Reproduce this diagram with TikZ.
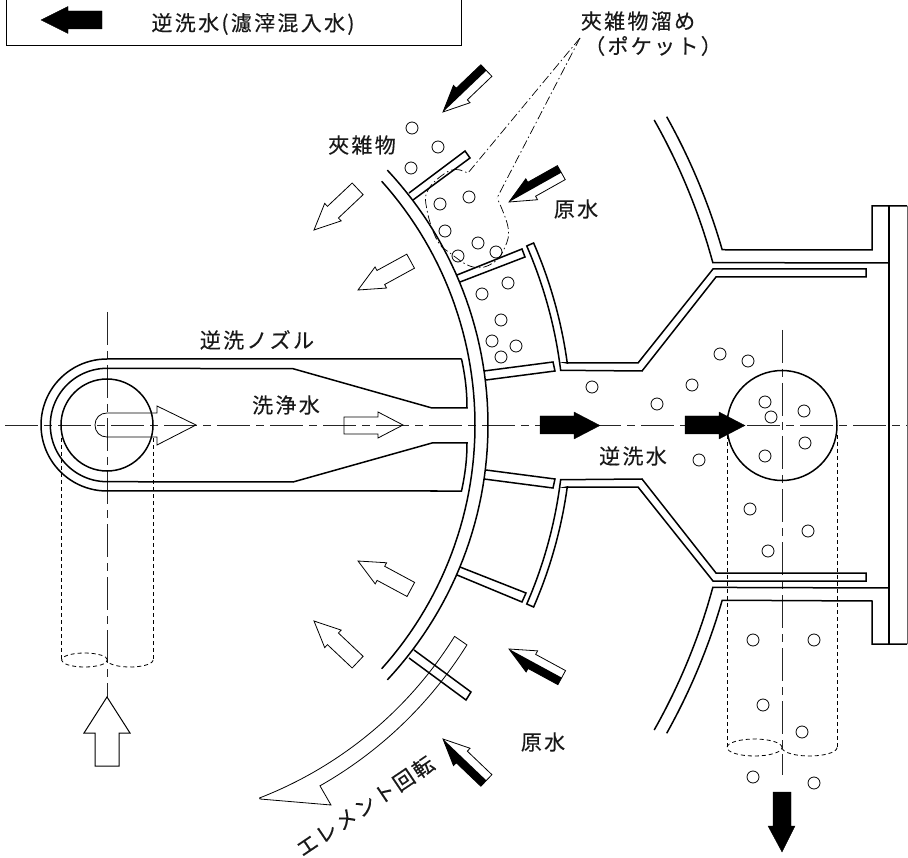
\documentclass[tikz,border=0pt]{standalone}
\usepackage{fontspec}
\setmainfont[LetterSpace=11,FakeBold=0.25]{Noto Sans CJK JP}
\usetikzlibrary{calc}
\tikzset{
  wall/.style={draw=black,line width=1.5pt,line join=miter},
  thinline/.style={draw=black,line width=0.8pt,line join=miter},
  centerl/.style={draw=black!85,line width=0.9pt,dash pattern=on 33pt off 6pt on 8pt off 6pt},
  hidden/.style={draw=black,line width=0.8pt,dash pattern=on 4pt off 3pt},
  leader/.style={draw=black,line width=0.7pt,dash pattern=on 9pt off 3pt on 1.5pt off 3pt},
  bead/.style={draw=black,line width=0.8pt},
  solidarrow/.style={fill=black,draw=black,line width=0.3pt},
  label/.style={font=\fontsize{21pt}{24pt}\selectfont,inner sep=0pt,text=black!90}
}
\newcommand\ArrowShape{(0,0) -- (26,-12) -- (26,-8) -- (60,-8) -- (60,8) -- (26,8) -- (26,12) -- cycle}
\newcommand\WhiteArrow[3]{\begin{scope}[shift={(#1,#2)},rotate=#3]
  \draw[thinline,fill=white] \ArrowShape;
\end{scope}}
% #4 = -1: black on the local upper side, 1: on the local lower side
\newcommand\HalfArrow[4]{\begin{scope}[shift={(#1,#2)},rotate=#3]
  \draw[thinline,fill=white] \ArrowShape;
  \fill[black] (0,0) -- (26,{#4*12}) -- (26,{#4*8}) -- (60,{#4*8}) -- (60,0) -- cycle;
\end{scope}}
\newcommand\Beads[1]{\foreach \px/\py in {#1}{\draw[bead] (\px,\py) circle (6pt);}}
\begin{document}
\begin{tikzpicture}[x=1pt,y=-1pt]
\useasboundingbox (0,0) rectangle (908,858);
\fill[white] (0,0) rectangle (908,858);

% legend
\draw[draw=black,line width=1pt] (6,-2) -- (6,46) -- (461,46) -- (461,-2);
\fill[solidarrow] (41,20) -- (68,6.5) -- (68,11) -- (102,11) -- (102,29) -- (68,29) -- (68,33.5) -- cycle;
\node[label] (legendtext) at (253,24) {逆洗水(濾滓混入水)};

% centre lines
\draw[centerl] (5,425) -- (907,425);
\draw[centerl] (107,312) -- (107,697);
\draw[centerl] (782,330) -- (782,775);

% filter wall double arc
\draw[wall] plot[domain=-41.9:41.9,samples=60] ({110+365*cos(\x)},{425+365*sin(\x)});
\draw[wall] plot[domain=-43.1:43.1,samples=60] ({115+373*cos(\x)},{425+373*sin(\x)});

% ribs
\draw[wall] (409,193) -- (465,151) -- (470,158) -- (413,200);
\draw[wall] (457,275) -- (522,249) -- (525,257) -- (460,282);
\draw[wall] (484,371) -- (553,362) -- (555,371) -- (486,380);
\draw[wall] (484,479) -- (553,488) -- (555,479) -- (486,470);
\draw[wall] (460,567) -- (526,593) -- (522,602) -- (457,575);
\draw[wall] (414,650) -- (471,692) -- (466,700) -- (409,658);

% inner housing, upper and lower
\draw[wall] plot[domain=-23.5:-7.0,samples=25] ({115+449*cos(\x)},{425+449*sin(\x)})
  -- (642,371) -- (716,277) -- (866,277) -- (866,269) -- (713,269) -- (638,363) -- (567,363)
  -- plot[domain=-7.8:-23.5,samples=25] ({115+456.5*cos(\x)},{425+456.5*sin(\x)}) -- cycle;
\draw[wall] plot[domain=23.5:7.0,samples=25] ({115+449*cos(\x)},{425+449*sin(\x)})
  -- (642,479) -- (716,573) -- (866,573) -- (866,581) -- (713,581) -- (638,487) -- (567,487)
  -- plot[domain=7.8:23.5,samples=25] ({115+456.5*cos(\x)},{425+456.5*sin(\x)}) -- cycle;

% outer casing and flange
\draw[wall] plot[domain=-29.5:-15.2,samples=25] ({115+619.5*cos(\x)},{425+619.5*sin(\x)}) -- (889,263);
\draw[wall] plot[domain=-29.2:-16.1,samples=25] ({115+632*cos(\x)},{425+632*sin(\x)}) -- (872,250) -- (872,206) -- (907,206);
\draw[wall] plot[domain=29.5:15.2,samples=25] ({115+619.5*cos(\x)},{425+619.5*sin(\x)}) -- (889,588);
\draw[wall] plot[domain=29.2:16.1,samples=25] ({115+632*cos(\x)},{425+632*sin(\x)}) -- (872,601) -- (872,644) -- (907,644);
\draw[wall] (889,206) -- (889,644);
\draw[draw=black!60,line width=1pt] (907,206) -- (907,644);

% big discharge circle and tube
\draw[wall] (782,425.5) circle (55pt);
\draw[hidden] (727,435) -- (727,747);
\draw[hidden] (837,435) -- (837,747);
\draw[hidden] (754.5,747.5) ellipse (27.5pt and 8.5pt);
\draw[hidden] plot[domain=0:180,samples=25] ({809.5+27.5*cos(\x)},{747.5+8.5*sin(\x)});

% nozzle
\draw[wall] (461.5,359) -- plot[domain=-90:-270,samples=50] ({107+66*cos(\x)},{425+66*sin(\x)})
  -- (461.5,491) .. controls (465,475) and (467,460) .. (467,443) -- (432,443) -- (293,482)
  -- plot[domain=90:270,samples=50] ({107+56.7*cos(\x)},{425+56.7*sin(\x)})
  -- (293,368.7) -- (432,408) -- (467,408) .. controls (467,390) and (465,375) .. (461.5,359);
\draw[wall] (107,425) circle (46pt);
\draw[hidden] (61,438) -- (61,660);
\draw[hidden] (153,438) -- (153,660);
\draw[hidden] (84.5,660) ellipse (23pt and 7pt);
\draw[hidden] plot[domain=0:180,samples=25] ({130+23*cos(\x)},{660+7*sin(\x)});

% hollow arrows in the nozzle
\draw[thinline] (107,413) .. controls (100,413) and (95,418) .. (95,425) .. controls (95,432) and (100,437) .. (107,437)
  -- (157,437) -- (157,445) -- (196,425) -- (157,406) -- (157,413) -- cycle;
\draw[thinline] (344,417) -- (378,417) -- (378,412) -- (403,425) -- (378,438) -- (378,434) -- (344,434) -- cycle;
\draw[thinline,line width=1pt] (107,697) -- (130,733) -- (119,733) -- (119,766) -- (95,766) -- (95,733) -- (84,733) -- cycle;

% black flow arrows
\fill[solidarrow] (540,416) -- (574,416) -- (574,412) -- (600,425.5) -- (574,439) -- (574,434) -- (540,434) -- cycle;
\fill[solidarrow] (685,416) -- (719,416) -- (719,412) -- (745,425.5) -- (719,439) -- (719,434) -- (685,434) -- cycle;
\fill[solidarrow] (773,792) -- (791,792) -- (791,826) -- (795,826) -- (782,852) -- (768,826) -- (773,826) -- cycle;

% half black arrows
\HalfArrow{443}{112}{43.7}{-1}
\HalfArrow{509}{202}{29.3}{-1}
\HalfArrow{509}{649}{-28.5}{1}
\HalfArrow{443}{739}{-43.7}{1}

% white arrows
\WhiteArrow{314}{230}{43.3}
\WhiteArrow{358}{290}{28.7}
\WhiteArrow{358}{561}{-28.3}
\WhiteArrow{314}{621}{-43.3}

% rotation arrow
\draw[thinline] plot[domain=32:60.4,samples=40] ({115+415*cos(\x)},{425+415*sin(\x)})
  -- (331,805) -- (260,799)
  -- plot[domain=68.8:31.9,samples=40] ({115+400*cos(\x)},{425+400*sin(\x)}) -- cycle;

% pocket outline and leaders
\coordinate (apex) at (580,38);
\coordinate (pocketa) at (468,173);
\coordinate (pocketb) at (497,198);
\draw[leader] (apex) -- (pocketa) -- (460,170);
\draw[leader] (apex) -- (pocketb);
\draw[leader] plot[smooth,tension=0.7] coordinates {(460,170) (447,172) (428,190) (427,210) (437,240) (450,253) (473,267) (493,263) (505,247) (508,227) (497,198)};

% beads
\Beads{412/128,438/147,411/168,440/204,469/197,445/231,478/243,458/256,496/252,
508/283,482/294,501/320,492/341,516/346,501/357,592/387,
720/354,748/361,692/385,657/404,765/402,771/417,804/411,805/443,765/456,699/460,
750/509,808/531,768/551,753/640,814/640,763/705,802/732,753/777,814/783}

% labels
\node[label] (pockettext) at (638,21) {夾雑物溜め};
\node[label] (pocketsub) at (653,46) {（ポケット）};
\node[label] (debris) at (362,145) {夾雑物};
\node[label] (raw1) at (576,209) {原水};
\node[label] (nozzlename) at (257,340) {逆洗ノズル};
\node[label] (washwater) at (286,405) {洗浄水};
\node[label] (backwash) at (633,456) {逆洗水};
\node[label] (raw2) at (543,742) {原水};
\node[label,rotate=34] (rotation) at (365,806) {エレメント回転};
\end{tikzpicture}
\end{document}
